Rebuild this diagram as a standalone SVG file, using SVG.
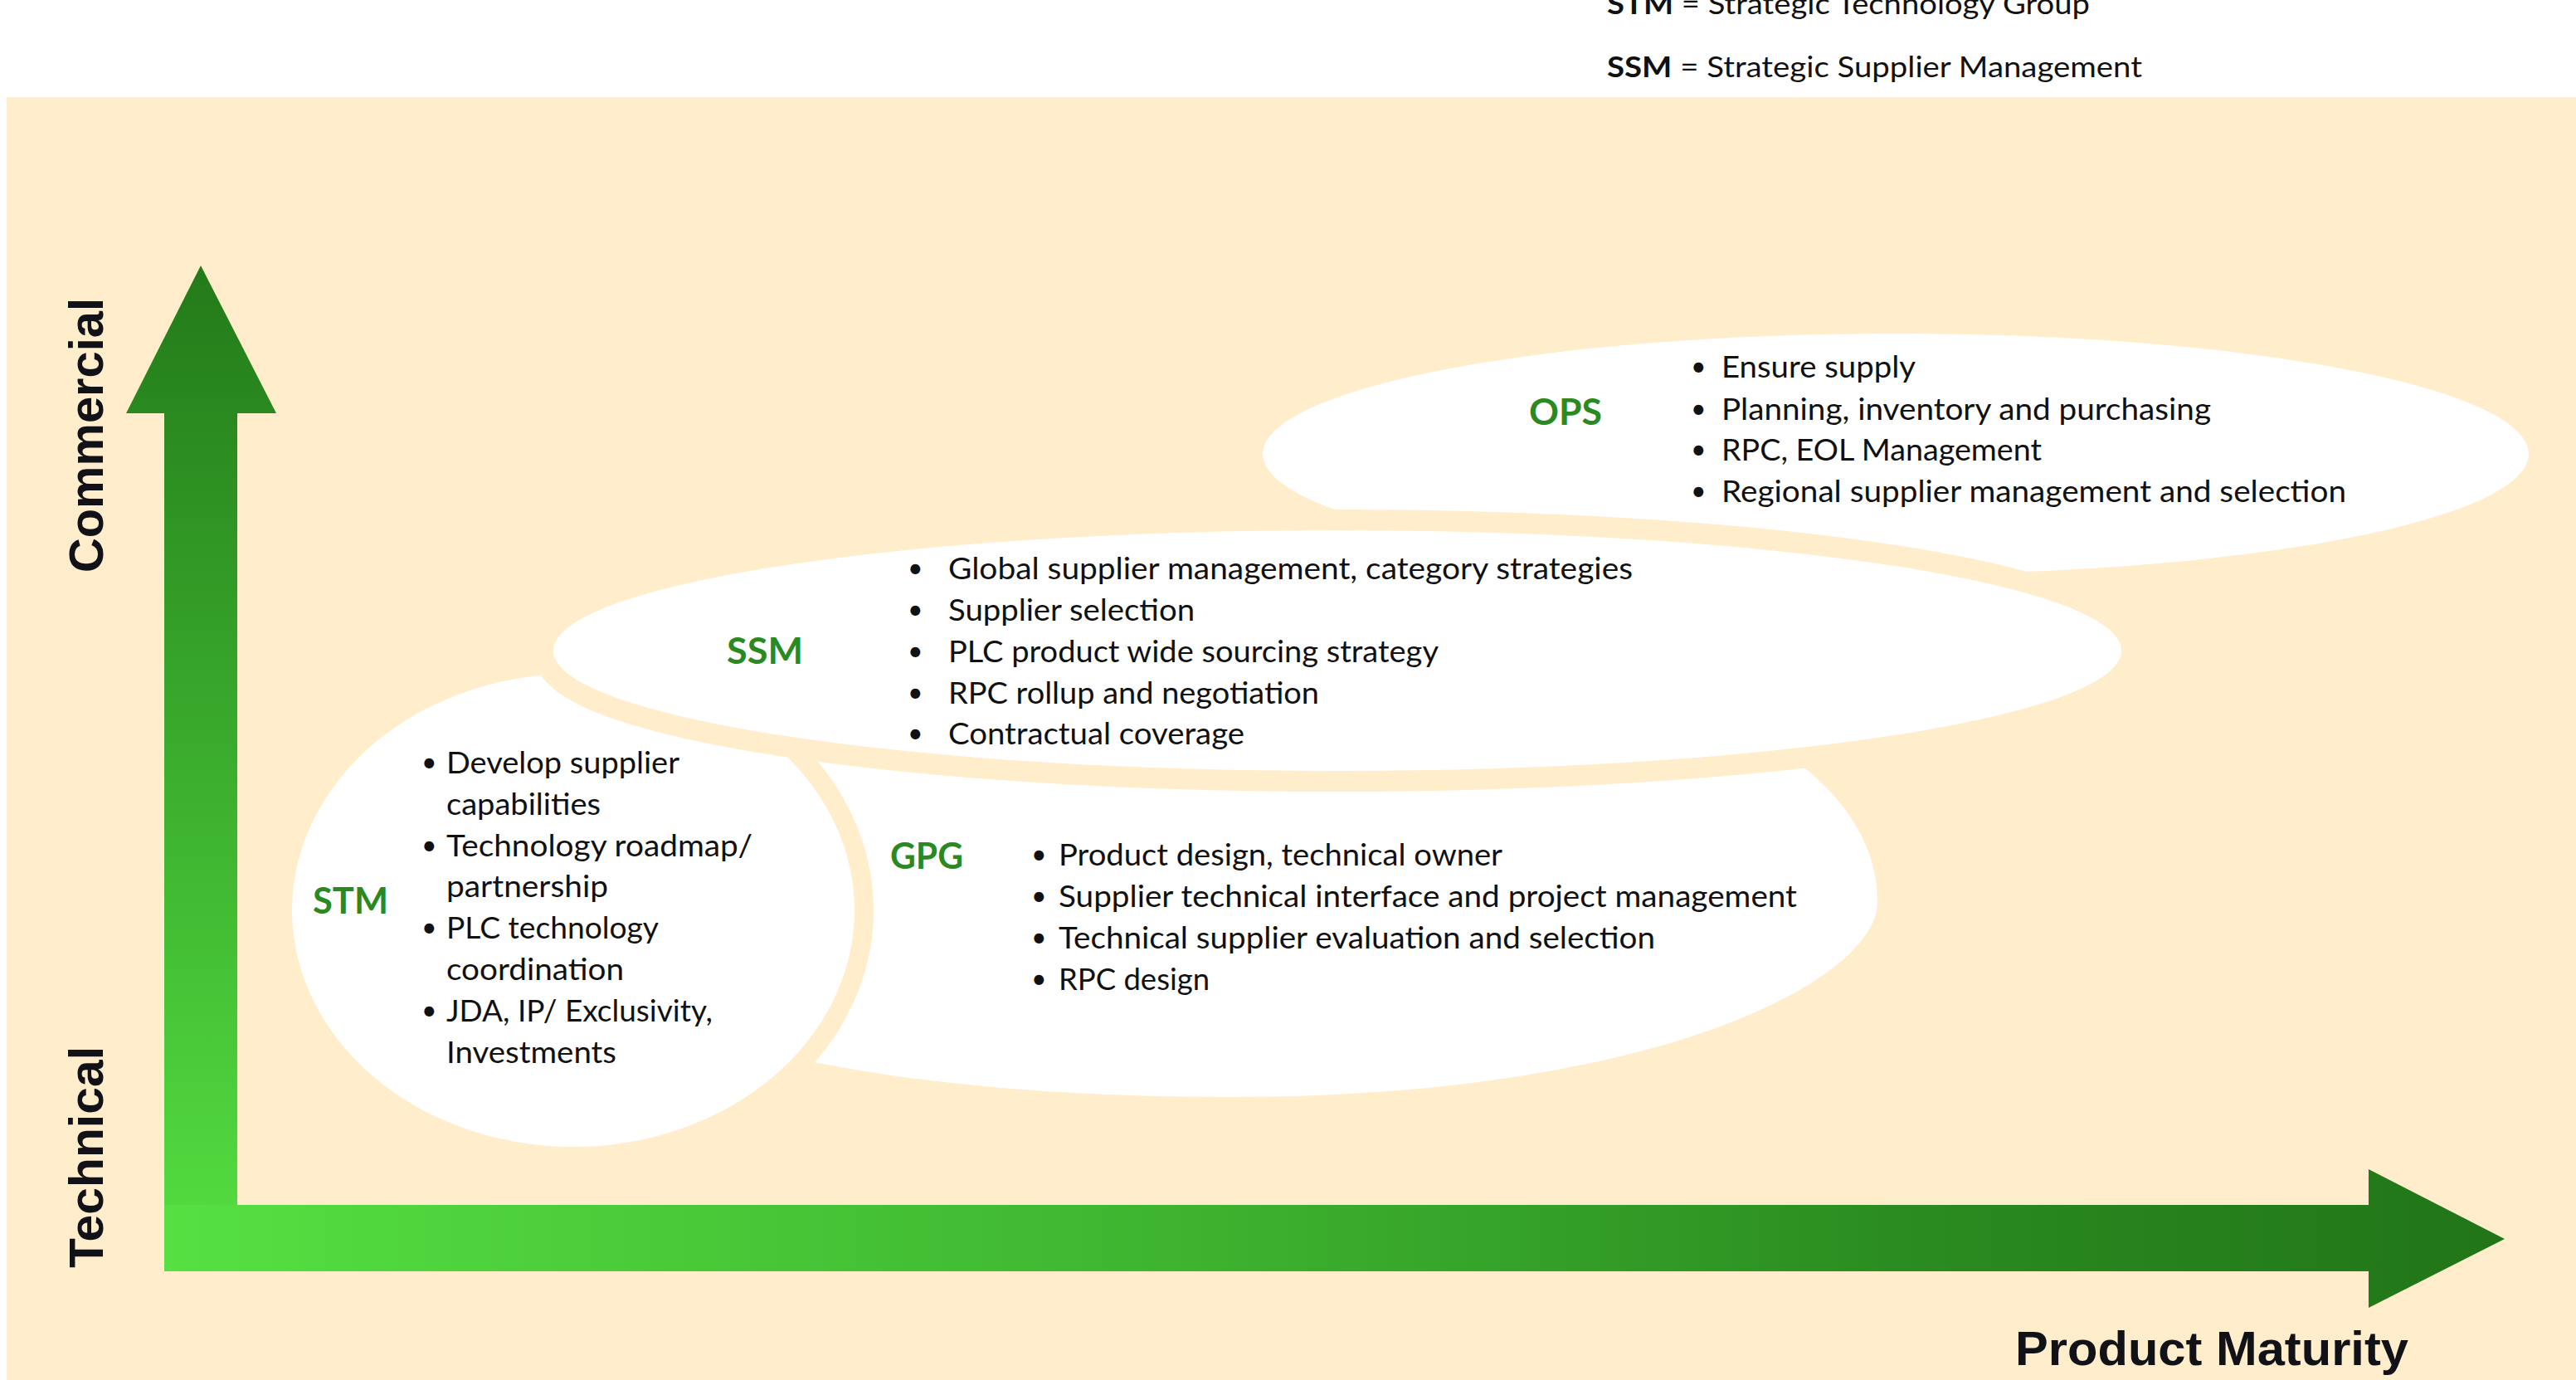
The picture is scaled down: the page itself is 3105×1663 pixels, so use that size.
<svg xmlns="http://www.w3.org/2000/svg" width="3105" height="1663" viewBox="0 0 3105 1663">
  <defs>
    <style>
      .body { font-family: Lato, "Liberation Sans", sans-serif; font-size: 37px; fill: #111111; }
      .bul { font-family: Lato, "Liberation Sans", sans-serif; font-size: 32px; fill: #111111; }
      .lbl { font-family: Lato, "Liberation Sans", sans-serif; font-size: 44px; font-weight: bold; fill: #2A8A1F; }
      .legend { font-family: Lato, "Liberation Sans", sans-serif; font-size: 35px; fill: #111111; }
      .axis { font-family: "Liberation Sans", Arial, sans-serif; font-size: 58px; font-weight: bold; fill: #111118; }
      .blob { fill: #FFFFFF; }
      .cut { stroke: #FFEDCC; paint-order: stroke; }
    </style>
    <linearGradient id="gv" x1="0" y1="320" x2="0" y2="1532" gradientUnits="userSpaceOnUse">
      <stop offset="0" stop-color="#237A19"/>
      <stop offset="0.5" stop-color="#3BAE2E"/>
      <stop offset="1" stop-color="#56E042"/>
    </linearGradient>
    <linearGradient id="gh" x1="198" y1="0" x2="3019" y2="0" gradientUnits="userSpaceOnUse">
      <stop offset="0" stop-color="#56E042"/>
      <stop offset="0.45" stop-color="#3DB22F"/>
      <stop offset="0.75" stop-color="#2A8B20"/>
      <stop offset="1" stop-color="#217518"/>
    </linearGradient>
  </defs>

  <rect x="0" y="0" width="3105" height="1663" fill="#FFFFFF"/>
  <rect x="8" y="117" width="3097" height="1546" fill="#FFEDCC"/>

  <g id="legend">
    <text class="legend" x="1937" y="17" textLength="582" lengthAdjust="spacingAndGlyphs"><tspan font-weight="bold">STM</tspan> = Strategic Technology Group</text>
    <text class="legend" x="1937" y="93" textLength="645" lengthAdjust="spacingAndGlyphs"><tspan font-weight="bold">SSM</tspan> = Strategic Supplier Management</text>
  </g>

  <g id="axes">
    <polygon points="198,1532 198,498 152,498 242,320 333,498 286,498 286,1532" fill="url(#gv)"/>
    <polygon points="198,1452 2855,1452 2855,1409 3019,1493 2855,1576 2855,1532 198,1532" fill="url(#gh)"/>
    <text class="axis" transform="translate(124,524.5) rotate(-90)" x="0" y="0" text-anchor="middle" textLength="331" lengthAdjust="spacingAndGlyphs">Commercial</text>
    <text class="axis" transform="translate(124,1394.5) rotate(-90)" x="0" y="0" text-anchor="middle" textLength="267" lengthAdjust="spacingAndGlyphs">Technical</text>
    <text class="axis" x="2429" y="1645" textLength="474" lengthAdjust="spacingAndGlyphs">Product Maturity</text>
  </g>

  <g id="GPG">
    <path class="blob" d="M 2100,875 C 2200,930 2263,1000 2263,1087 C 2263,1180 2000,1322 1480,1322 C 1200,1322 1000,1290 900,1260 L 900,900 Z"/>
    <text class="lbl" x="1073" y="1047" textLength="88" lengthAdjust="spacingAndGlyphs">GPG</text>
    <g class="body">
      <text class="bul" x="1243" y="1041">•</text>
      <text x="1276" y="1043" textLength="535" lengthAdjust="spacingAndGlyphs">Product design, technical owner</text>
      <text class="bul" x="1243" y="1091">•</text>
      <text x="1276" y="1093" textLength="890" lengthAdjust="spacingAndGlyphs">Supplier technical interface and project management</text>
      <text class="bul" x="1243" y="1141">•</text>
      <text x="1276" y="1143" textLength="719" lengthAdjust="spacingAndGlyphs">Technical supplier evaluation and selection</text>
      <text class="bul" x="1243" y="1191">•</text>
      <text x="1276" y="1193" textLength="182" lengthAdjust="spacingAndGlyphs">RPC design</text>
    </g>
  </g>

  <g id="STM">
    <ellipse class="blob cut" cx="691" cy="1097" rx="339" ry="285" stroke-width="46"/>
    <text class="lbl" x="377" y="1101" textLength="91" lengthAdjust="spacingAndGlyphs">STM</text>
    <g class="body">
      <text class="bul" x="508" y="930">•</text>
      <text x="538" y="932" textLength="281" lengthAdjust="spacingAndGlyphs">Develop supplier</text>
      <text x="538" y="982" textLength="186" lengthAdjust="spacingAndGlyphs">capabilities</text>
      <text class="bul" x="508" y="1030">•</text>
      <text x="538" y="1032" textLength="369" lengthAdjust="spacingAndGlyphs">Technology roadmap/</text>
      <text x="538" y="1081" textLength="195" lengthAdjust="spacingAndGlyphs">partnership</text>
      <text class="bul" x="508" y="1129">•</text>
      <text x="538" y="1131" textLength="256" lengthAdjust="spacingAndGlyphs">PLC technology</text>
      <text x="538" y="1181" textLength="214" lengthAdjust="spacingAndGlyphs">coordination</text>
      <text class="bul" x="508" y="1229">•</text>
      <text x="538" y="1231" textLength="321" lengthAdjust="spacingAndGlyphs">JDA, IP/ Exclusivity,</text>
      <text x="538" y="1281" textLength="205" lengthAdjust="spacingAndGlyphs">Investments</text>
    </g>
  </g>

  <g id="OPS">
    <ellipse class="blob" cx="2285" cy="547" rx="763" ry="145"/>
    <text class="lbl" x="1843" y="512" textLength="88" lengthAdjust="spacingAndGlyphs">OPS</text>
    <g class="body">
      <text class="bul" x="2038" y="453">•</text>
      <text x="2075" y="455" textLength="234" lengthAdjust="spacingAndGlyphs">Ensure supply</text>
      <text class="bul" x="2038" y="504">•</text>
      <text x="2075" y="506" textLength="590" lengthAdjust="spacingAndGlyphs">Planning, inventory and purchasing</text>
      <text class="bul" x="2038" y="553">•</text>
      <text x="2075" y="555" textLength="386" lengthAdjust="spacingAndGlyphs">RPC, EOL Management</text>
      <text class="bul" x="2038" y="603">•</text>
      <text x="2075" y="605" textLength="753" lengthAdjust="spacingAndGlyphs">Regional supplier management and selection</text>
    </g>
  </g>

  <g id="SSM">
    <ellipse class="blob cut" cx="1612" cy="784" rx="945" ry="145" stroke-width="50"/>
    <text class="lbl" x="876" y="800" textLength="92" lengthAdjust="spacingAndGlyphs">SSM</text>
    <g class="body">
      <text class="bul" x="1094" y="696">•</text>
      <text x="1143" y="698" textLength="825" lengthAdjust="spacingAndGlyphs">Global supplier management, category strategies</text>
      <text class="bul" x="1094" y="746">•</text>
      <text x="1143" y="748" textLength="297" lengthAdjust="spacingAndGlyphs">Supplier selection</text>
      <text class="bul" x="1094" y="796">•</text>
      <text x="1143" y="798" textLength="591" lengthAdjust="spacingAndGlyphs">PLC product wide sourcing strategy</text>
      <text class="bul" x="1094" y="846">•</text>
      <text x="1143" y="848" textLength="447" lengthAdjust="spacingAndGlyphs">RPC rollup and negotiation</text>
      <text class="bul" x="1094" y="895">•</text>
      <text x="1143" y="897" textLength="357" lengthAdjust="spacingAndGlyphs">Contractual coverage</text>
    </g>
  </g>
</svg>
